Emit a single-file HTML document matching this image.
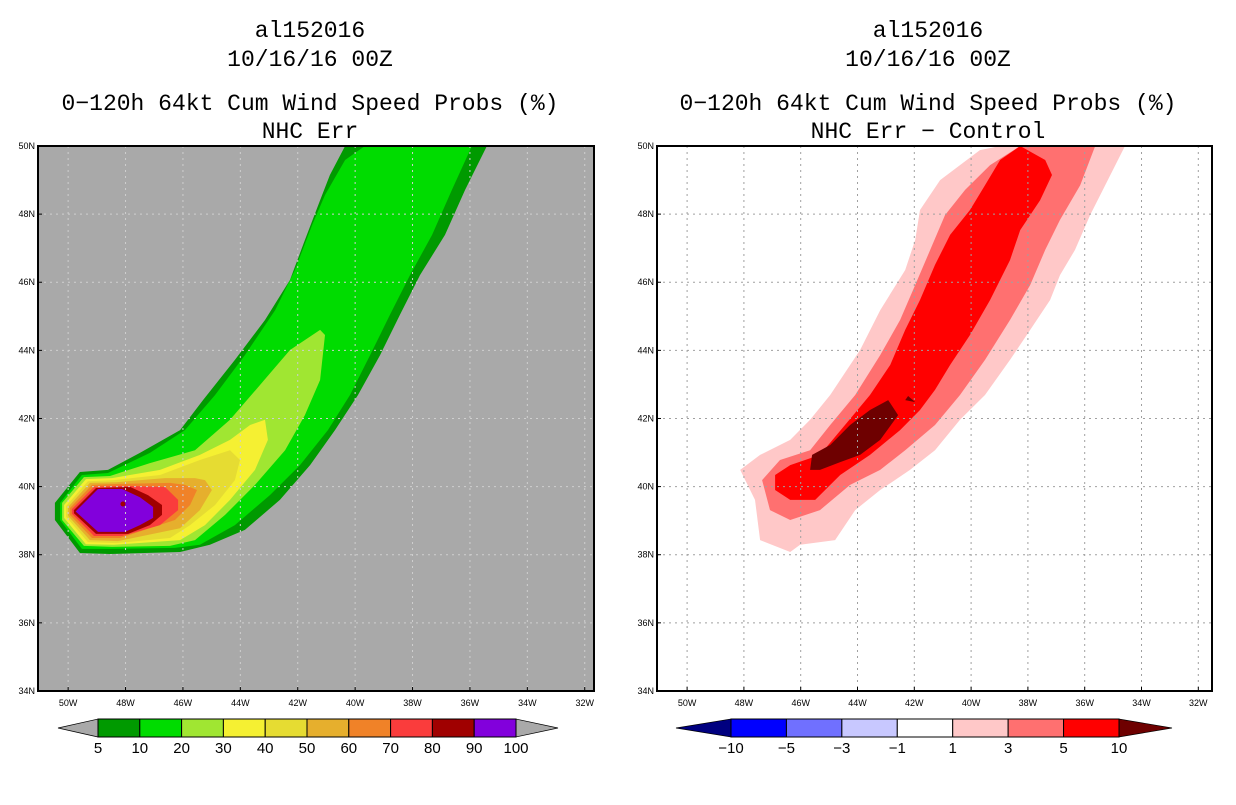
<!DOCTYPE html>
<html><head><meta charset="utf-8">
<style>
body{margin:0;background:#fff;width:1236px;height:800px;overflow:hidden}
svg text{font-family:"Liberation Sans",sans-serif}
svg text.ttl{font-family:"Liberation Mono",monospace}
</style></head>
<body>
<svg id="s" width="1236" height="800" xmlns="http://www.w3.org/2000/svg">
<g font-size="23" text-anchor="middle" fill="#000">
<text class="ttl" x="310" y="37">al152016</text><text class="ttl" x="310" y="66">10/16/16 00Z</text>
<text class="ttl" x="310" y="110">0−120h 64kt Cum Wind Speed Probs (%)</text><text class="ttl" x="310" y="138">NHC Err</text></g>
<g font-size="23" text-anchor="middle" fill="#000">
<text class="ttl" x="928" y="37">al152016</text><text class="ttl" x="928" y="66">10/16/16 00Z</text>
<text class="ttl" x="928" y="110">0−120h 64kt Cum Wind Speed Probs (%)</text><text class="ttl" x="928" y="138">NHC Err − Control</text></g>
</svg>
<script>
const latTicks=[50,48,46,44,42,40,38,36,34];
const lonTicks=[-50,-48,-46,-44,-42,-40,-38,-36,-34,-32];
const leftLevels=[5,10,20,30,40,50,60,70,80,90,100];
const leftColors=['#009a00','#00dc00','#a0e632','#f5f032','#e6dc32','#e6af2d','#f08228','#fa3c3c','#a00000','#8200dc'];
const rightLevels=[-10,-5,-3,-1,1,3,5,10];
const rightColors=['#000080','#0000ff','#7070ff','#c8c8ff','#ffffff','#ffc8c8','#ff7070','#ff0000','#6e0000'];
const L5=[-40.35,50,-35.41,50,-36.17,48.71,-36.87,47.39,-37.74,46.21,-38.44,45.04,-39.13,43.86,-39.90,42.69,-40.70,41.66,-41.57,40.63,-42.62,39.61,-43.84,38.73,-45.06,38.29,-46.10,38.08,-48.54,38.02,-49.59,38.05,-50.46,39.02,-50.46,39.52,-49.59,40.43,-48.61,40.49,-47.50,40.99,-46.10,41.66,-45.30,42.54,-44.19,43.72,-43.14,44.89,-42.27,46.07,-41.75,47.24,-41.22,48.41,-40.88,49.15];
const L10=[-39.66,50,-35.93,50,-36.63,48.71,-37.32,47.39,-38.09,46.21,-38.79,45.04,-39.48,43.86,-40.18,42.69,-40.95,41.66,-41.92,40.63,-42.97,39.75,-44.19,38.87,-45.41,38.29,-46.28,38.20,-48.54,38.17,-49.52,38.17,-50.28,39.02,-50.28,39.52,-49.52,40.34,-48.61,40.40,-47.15,40.99,-45.93,41.66,-44.88,42.69,-43.84,43.86,-42.79,45.18,-42.10,46.36,-41.50,47.68,-41.05,48.56,-40.35,49.59];
const L20=[-41.22,44.60,-41.05,44.45,-41.22,43.13,-41.75,42.10,-42.44,41.07,-43.49,40.05,-44.53,39.17,-45.58,38.43,-46.45,38.26,-48.47,38.23,-49.45,38.26,-50.21,39.02,-50.21,39.52,-49.45,40.28,-48.54,40.31,-47.15,40.69,-45.58,41.07,-44.36,41.96,-43.32,42.98,-42.27,44.01];
const L30=[-43.14,41.96,-43.04,41.37,-43.49,40.49,-44.36,39.61,-45.23,38.87,-46.10,38.43,-48.40,38.29,-49.38,38.31,-50.14,39.08,-50.14,39.46,-49.38,40.22,-48.47,40.25,-46.80,40.49,-45.41,40.93,-44.36,41.37,-43.66,41.81];
const L40=[-44.36,41.07,-44.01,40.78,-44.19,40.19,-44.88,39.46,-45.75,38.87,-46.45,38.49,-48.33,38.34,-49.31,38.37,-50.07,39.11,-50.07,39.43,-49.31,40.16,-48.40,40.19,-46.80,40.34,-45.41,40.78];
const L50=[-45.23,40.19,-44.99,39.90,-45.41,39.31,-46.10,38.78,-48.26,38.40,-49.24,38.43,-50.0,39.14,-50.0,39.40,-49.24,40.11,-48.33,40.13,-46.63,40.25,-45.58,40.25];
const L60=[-45.93,40.05,-45.51,39.90,-45.75,39.46,-46.28,39.02,-48.19,38.49,-49.17,38.49,-49.94,39.17,-49.94,39.37,-49.17,40.05,-48.26,40.08,-46.45,40.11];
const L70=[-48.19,40.02,-46.63,39.99,-46.17,39.61,-46.17,39.31,-46.80,38.87,-48.12,38.55,-49.10,38.55,-49.87,39.20,-49.87,39.34,-49.10,39.99];
const L80=[-49.03,39.96,-47.84,39.99,-47.22,39.75,-46.73,39.46,-46.73,39.17,-47.15,38.87,-47.91,38.61,-49.03,38.61,-49.80,39.22,-49.80,39.31];
const L90=[-48.96,39.93,-48.12,39.93,-47.50,39.69,-47.04,39.40,-47.04,39.08,-47.50,38.87,-48.02,38.67,-48.96,38.67,-49.73,39.26,-49.73,39.28];
const leftDot=[-48.09,39.49];
const R1=[-38.98,50,-34.58,50,-35.28,48.85,-35.81,47.97,-36.34,46.95,-36.87,46.21,-37.22,45.48,-37.92,44.60,-38.63,43.72,-39.51,42.69,-40.39,41.96,-41.27,41.07,-42.15,40.49,-43.20,39.90,-44.08,39.31,-44.79,38.43,-46.02,38.29,-46.37,38.08,-47.43,38.43,-47.61,39.61,-48.13,40.49,-47.43,40.93,-46.37,41.37,-45.67,41.96,-44.96,42.69,-43.91,44.01,-43.20,45.18,-42.32,46.36,-41.97,47.24,-41.80,48.12,-41.09,49.0,-40.39,49.44,-39.69,49.88];
const R3=[-38.27,50,-35.63,50,-36.16,48.85,-36.87,47.83,-37.39,46.95,-37.92,45.92,-38.63,44.89,-39.51,43.72,-40.39,42.69,-41.27,41.81,-42.32,41.07,-43.20,40.49,-44.26,40.05,-45.32,39.31,-46.37,39.02,-47.08,39.31,-47.36,40.19,-46.73,40.78,-45.67,41.07,-44.96,41.81,-44.08,42.69,-43.20,43.86,-42.50,44.89,-41.97,45.92,-41.44,46.95,-40.92,47.97,-40.21,48.71,-39.33,49.44];
const R5=[-38.27,50,-37.39,49.59,-37.15,49.15,-37.57,48.41,-38.27,47.53,-38.63,46.65,-39.33,45.48,-40.04,44.45,-40.74,43.57,-41.27,42.84,-41.80,42.25,-42.50,41.66,-43.56,40.93,-44.61,40.34,-45.49,39.61,-46.37,39.61,-46.90,39.90,-46.90,40.34,-46.37,40.63,-45.32,40.93,-44.44,41.81,-43.56,42.69,-42.85,43.57,-42.32,44.60,-41.80,45.48,-41.27,46.51,-40.74,47.39,-40.04,48.12,-39.51,48.85,-38.98,49.59];
const R10=[-42.92,42.54,-42.57,42.10,-43.20,41.37,-43.91,40.93,-44.61,40.72,-45.32,40.49,-45.67,40.49,-45.60,40.93,-44.96,41.22,-44.26,41.81,-43.56,42.25];
const R10b=[-42.32,42.54,-41.97,42.48,-42.22,42.66];

const NS='http://www.w3.org/2000/svg';
const svg=document.getElementById('s');
function mk(t,a,p){const e=document.createElementNS(NS,t);for(const k in a)e.setAttribute(k,a[k]);(p||svg).appendChild(e);return e;}
function panel(x0,x1,sx,lon0,bg,gridCol,prefix){
  const y0=146,y1=691,sy=34.06;
  const X=lon=>x0+(lon-lon0)*sx, Y=lat=>y0+(50-lat)*sy;
  const g=mk('g',{});
  
  
  const cp=mk('clipPath',{id:prefix+'clip'},g);mk('rect',{x:x0,y:y0,width:x1-x0,height:y1-y0},cp);
  const bgr=mk('rect',{x:x0,y:y0,width:x1-x0,height:y1-y0,fill:bg},g);
  
  
  const inner=mk('g',{'clip-path':'url(#'+prefix+'clip)'},g);
  return {X,Y,g,inner,x0,x1,y0,y1};
}
function poly(P,arr,col,name){
  let pts=[];for(let i=0;i<arr.length;i+=2)pts.push(P.X(arr[i]).toFixed(1)+','+P.Y(arr[i+1]).toFixed(1));
  const e=mk('polygon',{points:pts.join(' '),fill:col},P.inner);
  
  
}
function axes(P,gridCol,prefix){
  latTicks.forEach(l=>{const y=P.Y(l);
    if(l<50&&l>34){const ln=mk('line',{x1:P.x0,x2:P.x1,y1:y,y2:y,stroke:gridCol,'stroke-width':1,'stroke-dasharray':'2,4'},P.inner);
      }
    mk('line',{x1:P.x0,x2:P.x0+4,y1:y,y2:y,stroke:'#000'},P.g);
    const t=mk('text',{x:P.x0-3,y:y+3,'font-size':9,'text-anchor':'end'},P.g);t.textContent=l+'N';
    });
  lonTicks.forEach(l=>{const x=P.X(l);
    const ln=mk('line',{x1:x,x2:x,y1:P.y0,y2:P.y1,stroke:gridCol,'stroke-width':1,'stroke-dasharray':'2,4'},P.inner);
    
    mk('line',{x1:x,x2:x,y1:P.y1,y2:P.y1-4,stroke:'#000'},P.g);
    const t=mk('text',{x:x,y:P.y1+15,'font-size':9,'text-anchor':'middle'},P.g);t.textContent=(-l)+'W';
    });
  const fr=mk('rect',{x:P.x0,y:P.y0,width:P.x1-P.x0,height:P.y1-P.y0,fill:'none',stroke:'#000','stroke-width':2},P.g);
  
}
const PL=panel(38,594,28.7,-51.05,'#a9a9a9','#d0d0d0','left');
[L5,L10,L20,L30,L40,L50,L60,L70,L80,L90].forEach((a,i)=>poly(PL,a,leftColors[i],'contour-'+leftLevels[i]+'pct'));
const dot=mk('circle',{cx:PL.X(leftDot[0]),cy:PL.Y(leftDot[1]),r:2.5,fill:'#a00000'},PL.inner);

axes(PL,'#cfcfcf','left');
const PR=panel(657,1212,28.4,-51.06,'#ffffff','#a0a0a0','right');
[R1,R3,R5,R10].forEach((a,i)=>poly(PR,a,rightColors[5+i],'diff-contour-'+rightLevels[4+i]));
poly(PR,R10b,rightColors[8],'diff-contour-10-small');
axes(PR,'#a0a0a0','right');
function cbar(x0,x1,bx0,bx1,cols,labels,lo,hi,prefix){
  const g=mk('g',{});
  
  
  const yT=719,yB=737,yM=728,n=cols.length,w=(bx1-bx0)/n;
  mk('polygon',{points:`${x0},${yM} ${bx0},${yT} ${bx0},${yB}`,fill:lo,stroke:'#000','stroke-width':0.7},g);
  mk('polygon',{points:`${x1},${yM} ${bx1},${yT} ${bx1},${yB}`,fill:hi,stroke:'#000','stroke-width':0.7},g);
  cols.forEach((c,i)=>{const r=mk('rect',{x:bx0+i*w,y:yT,width:w,height:yB-yT,fill:c,stroke:'#000','stroke-width':1},g);
    });
  labels.forEach((l,i)=>{const t=mk('text',{x:bx0+i*w,y:yB+16,'font-size':15,'text-anchor':'middle'},g);t.textContent=String(l).replace('-','−');
    });
}
cbar(58,558,98,516,leftColors,leftLevels,'#a9a9a9','#a9a9a9','left');
cbar(676,1172,731,1119,rightColors.slice(1,8),rightLevels,rightColors[0],rightColors[8],'right');
</script>
</body></html>
